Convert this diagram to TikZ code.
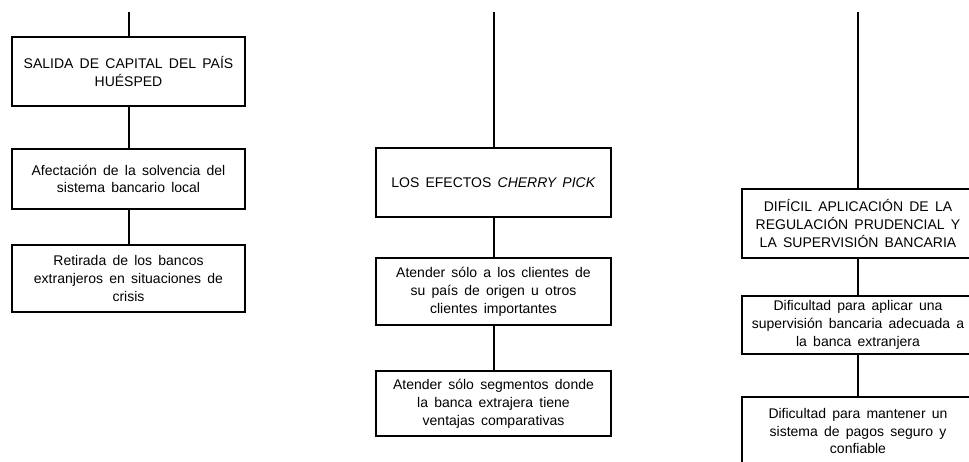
\documentclass[tikz,border=0pt]{standalone}
\usepackage{fontspec}
\setmainfont[WordSpace=1.6]{Liberation Sans}
\begin{document}
\begin{tikzpicture}[x=1pt,y=-1pt,
  box/.style={draw=black,line width=2.4pt,rectangle,inner sep=0pt,align=center,
    font=\fontsize{14}{17.8}\selectfont},
  link/.style={draw=black,line width=2pt}]
\clip (0,0) rectangle (969,461);
\fill[white] (0,0) rectangle (969,461);
% left column
\coordinate (lt) at (128.5,12);
\node[box,minimum width=233pt,minimum height=69pt] (L1) at (128.5,71.5) {SALIDA DE CAPITAL DEL PAÍS\\HUÉSPED};
\node[box,minimum width=233pt,minimum height=60pt] (L2) at (128.5,179) {Afectación de la solvencia del\\sistema bancario local};
\node[box,minimum width=233pt,minimum height=67pt] (L3) at (128.5,278.5) {Retirada de los bancos\\extranjeros en situaciones de\\crisis};
% center column
\coordinate (ct) at (493.5,12);
\node[box,minimum width=235pt,minimum height=69pt] (C1) at (493.5,182.5) {LOS EFECTOS \textit{CHERRY PICK}};
\node[box,minimum width=235pt,minimum height=67pt] (C2) at (493.5,291.5) {Atender sólo a los clientes de\\su país de origen u otros\\clientes importantes};
\node[box,minimum width=235pt,minimum height=65pt] (C3) at (493.5,403.5) {Atender sólo segmentos donde\\la banca extrajera tiene\\ventajas comparativas};
% right column
\coordinate (rt) at (858,12);
\node[box,minimum width=232pt,minimum height=69pt] (R1) at (858,223.5) {DIFÍCIL APLICACIÓN DE LA\\REGULACIÓN PRUDENCIAL Y\\LA SUPERVISIÓN BANCARIA};
\node[box,minimum width=232pt,minimum height=58pt] (R2) at (858,325) {Dificultad para aplicar una\\supervisión bancaria adecuada a\\la banca extranjera};
\node[box,minimum width=232pt,minimum height=68pt] (R3) at (858,431) {Dificultad para mantener un\\sistema de pagos seguro y\\confiable};
% connectors
\draw[link] (lt) -- (L1.north);
\draw[link] (L1.south) -- (L2.north);
\draw[link] (L2.south) -- (L3.north);
\draw[link] (ct) -- (C1.north);
\draw[link] (C1.south) -- (C2.north);
\draw[link] (C2.south) -- (C3.north);
\draw[link] (rt) -- (R1.north);
\draw[link] (R1.south) -- (R2.north);
\draw[link] (R2.south) -- (R3.north);
\end{tikzpicture}
\end{document}
